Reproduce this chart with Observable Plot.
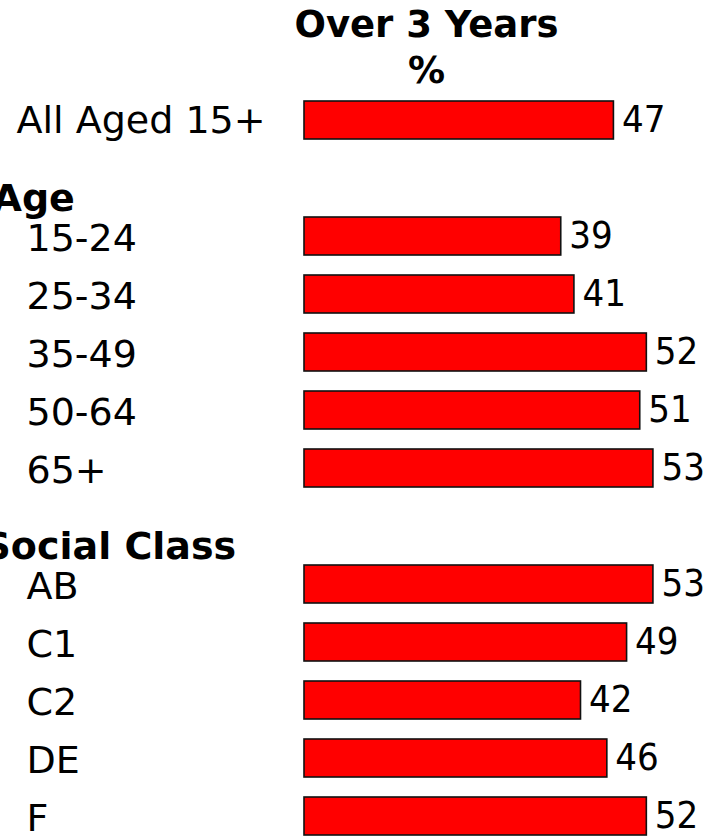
<!DOCTYPE html>
<html>
<head>
<meta charset="utf-8">
<script src="https://cdn.jsdelivr.net/npm/d3@7"></script>
<script src="https://cdn.jsdelivr.net/npm/@observablehq/plot@0.6"></script>
<style>
  html, body { margin: 0; padding: 0; background: #ffffff; }
  #chart { width: 720px; height: 836px; overflow: hidden; }
</style>
</head>
<body>
<div id="chart"></div>
<script>
// ---- data ----
const titleLines = ["Over 3 Years", "%"];
const overallLabels = ["All Aged 15+"];
const overallValues = [47];
const groupHeaders = ["Age", "Social Class"];
const ageLabels = ["15-24", "25-34", "35-49", "50-64", "65+"];
const ageValues = [39, 41, 52, 51, 53];
const classLabels = ["AB", "C1", "C2", "DE", "F"];
const classValues = [53, 49, 42, 46, 52];

// ---- tables built from the arrays ----
const overall = overallLabels.map((label, i) => ({label, value: overallValues[i]}));
const age = ageLabels.map((label, i) => ({label, value: ageValues[i]}));
const social = classLabels.map((label, i) => ({label, value: classValues[i]}));
const subRows = [...age, ...social];
const allBars = [...overall, ...subRows];
const rowOrder = [...overallLabels, groupHeaders[0], ...ageLabels, groupHeaders[1], ...classLabels];

const font = "'DejaVu Sans', sans-serif";
const condensed = "'DejaVu Sans Condensed', 'DejaVu Sans', sans-serif";

const chart = Plot.plot({
  width: 720,
  height: 836,
  marginLeft: 304,
  marginRight: 21,
  marginTop: 0,
  marginBottom: 0,
  style: {fontFamily: font, background: "#ffffff", color: "#000000", overflow: "hidden"},
  x: {domain: [0, 60], axis: null},
  y: {domain: rowOrder, range: [88.9, 846.1], paddingInner: 0.35, paddingOuter: 0.175, axis: null},
  marks: [
    Plot.barX(allBars, {x: "value", y: "label", fill: "#ff0000", stroke: "#111111", strokeWidth: 1.6}),
    Plot.text(allBars, {x: "value", y: "label", text: d => String(d.value), textAnchor: "start", dx: 8, dy: -1, fontSize: 38, fontFamily: condensed, fill: "#000000"}),
    Plot.text(overall, {y: "label", text: "label", frameAnchor: "left", textAnchor: "start", dx: -288, fontSize: 38, fill: "#000000"}),
    Plot.text(subRows, {y: "label", text: "label", frameAnchor: "left", textAnchor: "start", dx: -278, dy: 2, fontSize: 38, fill: "#000000"}),
    Plot.text([groupHeaders[0]], {y: d => d, text: d => d, frameAnchor: "left", textAnchor: "start", dx: -312, dy: 20, fontSize: 38, fontWeight: "bold", fill: "#000000"}),
    Plot.text([groupHeaders[1]], {y: d => d, text: d => d, frameAnchor: "left", textAnchor: "start", dx: -321, dy: 20, fontSize: 38, fontWeight: "bold", fill: "#000000"}),
    Plot.text([titleLines.join("\n")], {text: d => d, frameAnchor: "top-left", textAnchor: "middle", lineAnchor: "bottom", lineHeight: 1.24, dx: 122, dy: 82, fontSize: 37, fontWeight: "bold", fill: "#000000"})
  ]
});

document.getElementById("chart").appendChild(chart);
</script>
</body>
</html>
